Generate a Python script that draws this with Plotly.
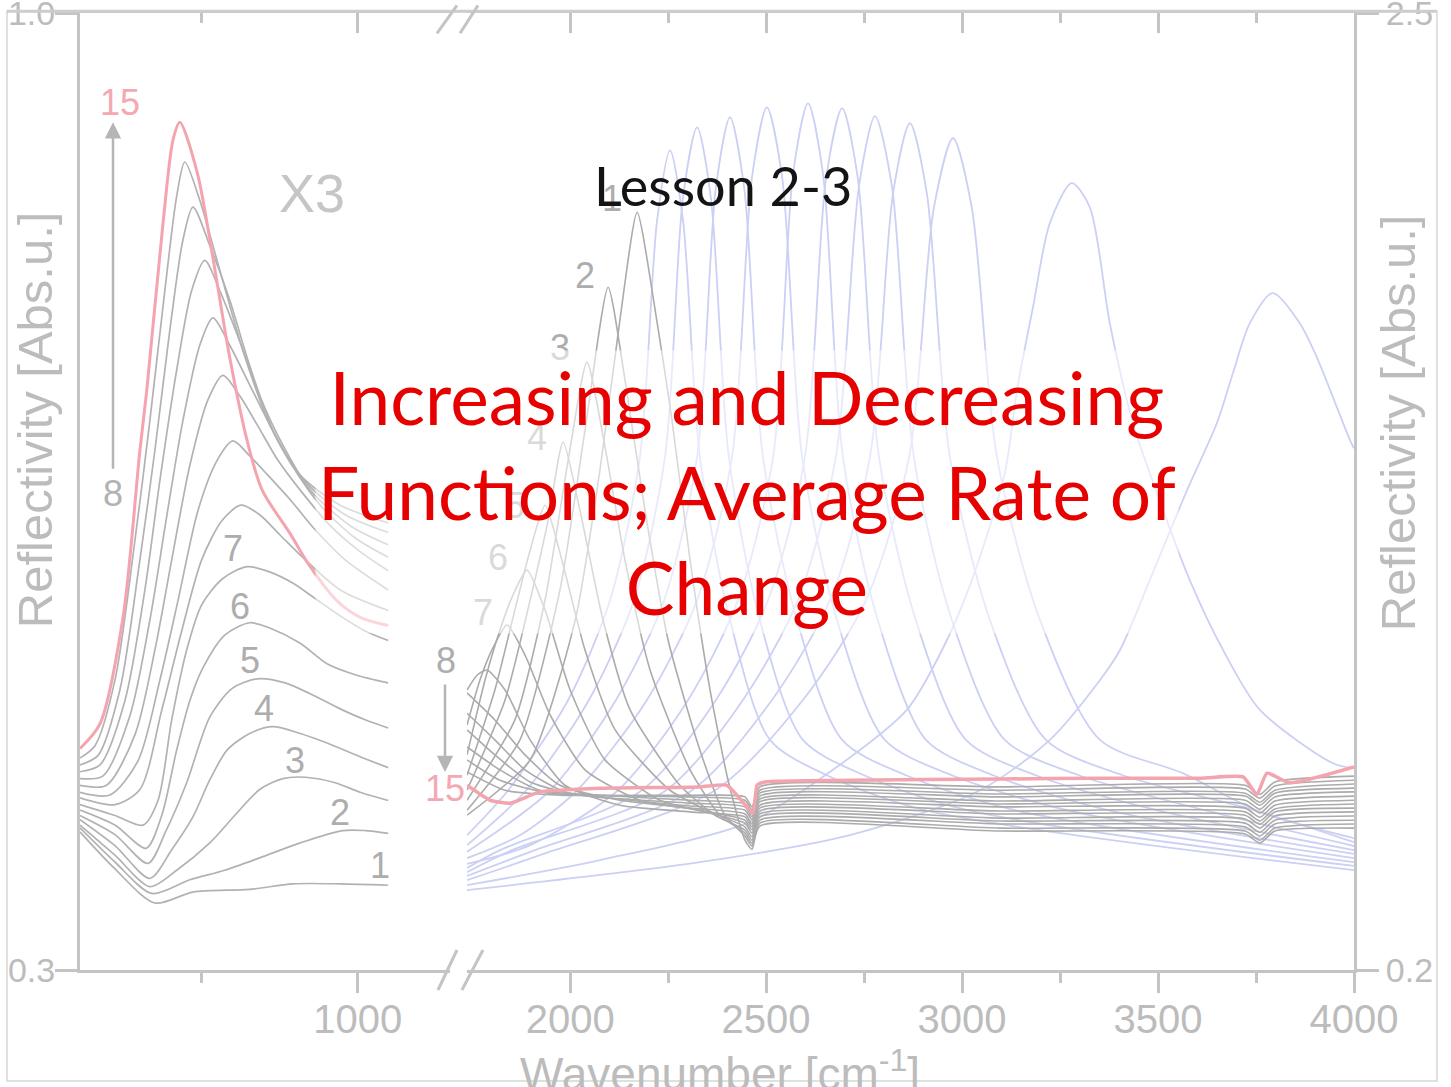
import plotly.graph_objects as go

# ---------------- LEFT PANEL (x3 magnified, left axis 0.3-1.0) ----------------
# wavenumber [cm-1] / reflectivity [Abs.u.]
left15_x = [555, 587, 624, 651, 662, 688, 704, 715, 743, 768, 795, 823, 847, 892, 924, 967, 1004, 1049]
left15_y = [0.462, 0.480, 0.558, 0.680, 0.724, 0.846, 0.907, 0.920, 0.883, 0.821, 0.748, 0.687, 0.651, 0.619, 0.595, 0.570, 0.558, 0.552]
left14_x = [555, 579, 611, 643, 667, 691, 710, 723, 747, 779, 819, 860, 908, 972, 1049]
left14_y = [0.455, 0.464, 0.512, 0.614, 0.702, 0.797, 0.866, 0.891, 0.863, 0.812, 0.749, 0.698, 0.662, 0.640, 0.627]
left13_x = [555, 584, 619, 651, 675, 699, 720, 736, 763, 795, 827, 868, 916, 980, 1049]
left13_y = [0.450, 0.457, 0.505, 0.600, 0.680, 0.768, 0.834, 0.858, 0.830, 0.790, 0.742, 0.691, 0.657, 0.633, 0.620]
left12_x = [555, 587, 627, 659, 683, 710, 734, 755, 779, 811, 843, 880, 924, 988, 1049]
left12_y = [0.445, 0.450, 0.497, 0.578, 0.658, 0.739, 0.797, 0.819, 0.797, 0.760, 0.720, 0.684, 0.651, 0.625, 0.611]
left11_x = [555, 592, 635, 667, 693, 720, 747, 768, 795, 827, 860, 895, 940, 996, 1049]
left11_y = [0.440, 0.442, 0.486, 0.556, 0.629, 0.702, 0.757, 0.777, 0.757, 0.728, 0.698, 0.669, 0.640, 0.616, 0.602]
left10_x = [555, 597, 643, 675, 702, 731, 760, 784, 811, 840, 872, 908, 956, 1004, 1049]
left10_y = [0.435, 0.435, 0.472, 0.534, 0.600, 0.669, 0.717, 0.735, 0.720, 0.698, 0.673, 0.651, 0.625, 0.606, 0.592]
left9_x = [555, 603, 648, 683, 712, 744, 775, 800, 827, 856, 892, 932, 980, 1049]
left9_y = [0.430, 0.428, 0.453, 0.512, 0.570, 0.636, 0.673, 0.687, 0.676, 0.662, 0.644, 0.622, 0.600, 0.578]
left8_x = [555, 611, 651, 686, 718, 750, 783, 813, 843, 876, 916, 972, 1049]
left8_y = [0.426, 0.421, 0.432, 0.490, 0.548, 0.600, 0.629, 0.640, 0.633, 0.618, 0.600, 0.578, 0.563]
left7_x = [555, 611, 656, 680, 702, 726, 750, 783, 823, 860, 896, 928, 972, 1012, 1049]
left7_y = [0.421, 0.413, 0.406, 0.424, 0.483, 0.534, 0.567, 0.586, 0.595, 0.591, 0.583, 0.573, 0.559, 0.548, 0.541]
left6_x = [555, 611, 661, 686, 710, 731, 752, 787, 827, 860, 908, 951, 996, 1049]
left6_y = [0.417, 0.406, 0.389, 0.413, 0.461, 0.497, 0.521, 0.545, 0.554, 0.550, 0.539, 0.524, 0.516, 0.510]
left5_x = [555, 611, 664, 693, 726, 763, 799, 839, 884, 924, 972, 1012, 1049]
left5_y = [0.413, 0.399, 0.378, 0.402, 0.437, 0.485, 0.506, 0.513, 0.510, 0.502, 0.491, 0.483, 0.477]
left4_x = [555, 611, 667, 702, 736, 763, 791, 827, 864, 908, 951, 1004, 1049]
left4_y = [0.410, 0.391, 0.367, 0.388, 0.412, 0.439, 0.461, 0.473, 0.478, 0.473, 0.466, 0.456, 0.448]
left3_x = [555, 611, 667, 710, 763, 803, 843, 880, 916, 964, 1004, 1049]
left3_y = [0.406, 0.384, 0.361, 0.373, 0.393, 0.413, 0.432, 0.440, 0.441, 0.437, 0.430, 0.424]
left2_x = [555, 611, 670, 731, 787, 843, 908, 976, 1012, 1049]
left2_y = [0.404, 0.379, 0.356, 0.366, 0.373, 0.382, 0.393, 0.402, 0.402, 0.400]
left1_x = [555, 611, 675, 736, 827, 896, 972, 1049]
left1_y = [0.401, 0.374, 0.349, 0.357, 0.359, 0.363, 0.363, 0.362]

# ---------------- RIGHT PANEL (right axis 0.2-2.5) ----------------
right15_x = [1737, 1796, 1847, 1923, 2076, 2331, 2400, 2451, 2467, 2477, 2497, 2714, 3097, 3352, 3607, 3717, 3752, 3778, 3836, 4000]
right15_y = [0.644, 0.608, 0.601, 0.628, 0.637, 0.640, 0.644, 0.592, 0.577, 0.644, 0.652, 0.656, 0.659, 0.661, 0.661, 0.664, 0.622, 0.673, 0.650, 0.688]

tail_x = [2446, 2464, 2484, 3097, 3722, 3760, 3798, 4000]

g1_x = [1737, 1898, 2013, 2076, 2127, 2171, 2217, 2260, 2306, 2357, 2403] + tail_x
g1_y = [0.572, 0.705, 1.041, 1.401, 1.762, 2.021, 1.786, 1.521, 1.185, 0.873, 0.656,
        0.512, 0.490, 0.546, 0.534, 0.527, 0.505, 0.534, 0.541]
g2_x = [1737, 1872, 1974, 2038, 2097, 2140, 2191, 2250, 2331, 2395] + tail_x
g2_y = [0.584, 0.753, 1.113, 1.497, 1.841, 1.618, 1.305, 0.993, 0.729, 0.572,
        0.522, 0.498, 0.553, 0.541, 0.534, 0.512, 0.541, 0.551]
g3_x = [1737, 1859, 1936, 1995, 2043, 2086, 2140, 2204, 2306, 2382] + tail_x
g3_y = [0.608, 0.801, 1.089, 1.425, 1.661, 1.473, 1.185, 0.921, 0.681, 0.572,
        0.529, 0.505, 0.560, 0.551, 0.544, 0.522, 0.551, 0.560]
g4_x = [1737, 1834, 1898, 1944, 1982, 2025, 2084, 2153, 2280, 2370] + tail_x
g4_y = [0.632, 0.849, 1.089, 1.281, 1.469, 1.305, 1.041, 0.825, 0.644, 0.572,
        0.536, 0.512, 0.568, 0.558, 0.553, 0.531, 0.560, 0.570]
g5_x = [1737, 1808, 1859, 1898, 1936, 1979, 2038, 2115, 2255, 2357] + tail_x
g5_y = [0.668, 0.873, 1.065, 1.209, 1.317, 1.185, 0.969, 0.777, 0.632, 0.580,
        0.544, 0.520, 0.575, 0.565, 0.563, 0.541, 0.570, 0.580]
g6_x = [1737, 1783, 1821, 1854, 1890, 1936, 2000, 2089, 2229, 2344] + tail_x
g6_y = [0.717, 0.897, 1.017, 1.101, 1.161, 1.065, 0.873, 0.705, 0.608, 0.580,
        0.553, 0.529, 0.582, 0.575, 0.572, 0.550, 0.580, 0.589]
g7_x = [1737, 1770, 1803, 1839, 1885, 1949, 2038, 2178, 2331] + tail_x
g7_y = [0.789, 0.897, 0.974, 1.029, 0.957, 0.813, 0.681, 0.608, 0.584,
        0.560, 0.537, 0.589, 0.582, 0.580, 0.558, 0.587, 0.599]
g8_x = [1737, 1763, 1788, 1834, 1898, 1987, 2127, 2306] + tail_x
g8_y = [0.873, 0.909, 0.921, 0.873, 0.753, 0.644, 0.596, 0.580,
        0.568, 0.544, 0.596, 0.592, 0.589, 0.567, 0.596, 0.608]
g9_x = [1737, 1808, 1885, 1974, 2127, 2306] + tail_x
g9_y = [0.866, 0.801, 0.717, 0.644, 0.608, 0.589,
        0.575, 0.551, 0.604, 0.599, 0.599, 0.577, 0.606, 0.618]
g10_x = [1737, 1808, 1885, 1987, 2153, 2306] + tail_x
g10_y = [0.817, 0.753, 0.681, 0.628, 0.608, 0.594,
         0.584, 0.561, 0.611, 0.606, 0.608, 0.586, 0.616, 0.628]
g11_x = [1737, 1808, 1898, 2025, 2306] + tail_x
g11_y = [0.777, 0.717, 0.652, 0.620, 0.601,
         0.592, 0.568, 0.618, 0.616, 0.618, 0.596, 0.625, 0.637]
g12_x = [1737, 1821, 1923, 2076, 2306] + tail_x
g12_y = [0.736, 0.681, 0.632, 0.620, 0.608,
         0.599, 0.575, 0.625, 0.623, 0.625, 0.603, 0.632, 0.647]
g13_x = [1737, 1821, 1949, 2306] + tail_x
g13_y = [0.705, 0.656, 0.625, 0.616,
         0.608, 0.585, 0.632, 0.632, 0.635, 0.613, 0.642, 0.656]
g14_x = [1737, 1834, 1974, 2306] + tail_x
g14_y = [0.676, 0.632, 0.620, 0.620,
         0.616, 0.592, 0.640, 0.640, 0.644, 0.622, 0.652, 0.666]

b1_x = [1737, 1842, 1995, 2102, 2178, 2222, 2255, 2288, 2331, 2408, 2510, 2655, 2905, 4000]
b1_y = [0.524, 0.632, 0.849, 1.089, 1.433, 2.002, 2.170, 2.002, 1.433, 1.041, 0.753, 0.668, 0.584, 0.440]
b2_x = [1737, 1888, 2048, 2163, 2242, 2288, 2324, 2359, 2405, 2484, 2594, 2750, 3013, 4000]
b2_y = [0.500, 0.632, 0.849, 1.089, 1.433, 2.057, 2.225, 2.057, 1.433, 1.041, 0.753, 0.668, 0.584, 0.450]
b3_x = [1737, 1949, 2117, 2240, 2324, 2372, 2408, 2444, 2492, 2579, 2694, 2857, 3135, 4000]
b3_y = [0.484, 0.632, 0.849, 1.089, 1.433, 2.081, 2.249, 2.081, 1.433, 1.041, 0.753, 0.668, 0.584, 0.459]
b4_x = [1737, 1872, 2018, 2196, 2324, 2413, 2464, 2502, 2541, 2592, 2681, 2803, 2974, 3268, 4000]
b4_y = [0.469, 0.524, 0.632, 0.849, 1.089, 1.433, 2.105, 2.273, 2.105, 1.433, 1.041, 0.753, 0.668, 0.584, 0.469]
b5_x = [1737, 1898, 2122, 2301, 2428, 2518, 2569, 2607, 2645, 2696, 2785, 2908, 3079, 3372, 4000]
b5_y = [0.455, 0.500, 0.632, 0.849, 1.089, 1.433, 2.115, 2.283, 2.115, 1.433, 1.041, 0.753, 0.668, 0.584, 0.479]
b6_x = [1737, 1821, 2183, 2372, 2505, 2599, 2653, 2694, 2734, 2788, 2882, 3010, 3188, 3497, 4000]
b6_y = [0.445, 0.488, 0.632, 0.849, 1.089, 1.433, 2.103, 2.271, 2.103, 1.433, 1.041, 0.753, 0.668, 0.584, 0.488]
b7_x = [1737, 1852, 2245, 2441, 2581, 2678, 2737, 2778, 2821, 2877, 2974, 3109, 3298, 3620, 4000]
b7_y = [0.435, 0.488, 0.632, 0.849, 1.089, 1.433, 2.084, 2.252, 2.084, 1.433, 1.041, 0.753, 0.668, 0.584, 0.498]
b8_x = [1737, 1898, 2311, 2515, 2663, 2765, 2824, 2867, 2910, 2969, 3071, 3214, 3410, 3747, 4000]
b8_y = [0.426, 0.484, 0.632, 0.849, 1.089, 1.433, 2.067, 2.235, 2.067, 1.433, 1.041, 0.753, 0.668, 0.584, 0.507]
b9_x = [1737, 1923, 2370, 2594, 2755, 2865, 2928, 2977, 3025, 3089, 3199, 3352, 3563, 3760, 4000]
b9_y = [0.416, 0.476, 0.632, 0.849, 1.089, 1.433, 2.031, 2.199, 2.031, 1.433, 1.041, 0.753, 0.673, 0.580, 0.517]
b10_x = [1737, 2076, 2459, 2694, 2859, 2949, 3025, 3109, 3140, 3181, 3224, 3280, 3326, 3377, 3436, 3479, 3581, 3666, 3760, 3946, 4000]
b10_y = [0.404, 0.464, 0.556, 0.697, 0.825, 0.969, 1.137, 1.394, 1.593, 1.793, 1.995, 2.091, 2.033, 1.754, 1.514, 1.394, 1.137, 0.969, 0.825, 0.697, 0.685]
b11_x = [1737, 2331, 2714, 3046, 3224, 3352, 3403, 3479, 3574, 3650, 3691, 3734, 3793, 3862, 3905, 3990, 4000]
b11_y = [0.392, 0.459, 0.524, 0.632, 0.753, 0.897, 0.969, 1.137, 1.353, 1.514, 1.634, 1.754, 1.827, 1.754, 1.673, 1.473, 1.454]

# ticks
left_major = [1000]
left_minor = [750]
right_major = [2000, 2500, 3000, 3500, 4000]
right_minor = [2250, 2750, 3250, 3750]

# curve labels (paper positions)
left_labels = ["7", "6", "5", "4", "3", "2", "1"]
left_label_x = [0.1201, 0.1256, 0.1334, 0.1444, 0.1688, 0.2041, 0.2355]
left_label_y = [0.4408, 0.3802, 0.3238, 0.2737, 0.2194, 0.1650, 0.1097]
right_labels = ["1", "2", "3", "4", "5", "6", "7", "8"]
right_label_x = [0.4176, 0.3964, 0.3768, 0.3587, 0.3414, 0.3281, 0.3163, 0.2873]
right_label_y = [0.8064, 0.7260, 0.6508, 0.5568, 0.4857, 0.4314, 0.3740, 0.3238]

GRAY = "#b2b2b2"
RGRAY = "#ababab"
BLUE = "#cbd0f4"
PINK = "#f4a4ae"
AXC = "#c4c4c4"
TXT = "#bcbcbc"
SANS = "Liberation Sans, Arial, sans-serif"

fig = go.Figure()

def add(xs, ys, color, width, xa, ya, smooth=0.8):
    fig.add_trace(go.Scatter(x=xs, y=ys, mode="lines", xaxis=xa, yaxis=ya,
                             line=dict(color=color, width=width, shape="spline", smoothing=smooth),
                             hoverinfo="skip", showlegend=False))

# right panel: blue, then gray, then pink
for xs, ys in [(b1_x, b1_y), (b2_x, b2_y), (b3_x, b3_y), (b4_x, b4_y), (b5_x, b5_y), (b6_x, b6_y),
               (b7_x, b7_y), (b8_x, b8_y), (b9_x, b9_y), (b10_x, b10_y), (b11_x, b11_y)]:
    add(xs, ys, BLUE, 1.8, "x2", "y2")
for xs, ys in [(g14_x, g14_y), (g13_x, g13_y), (g12_x, g12_y), (g11_x, g11_y), (g10_x, g10_y),
               (g9_x, g9_y), (g8_x, g8_y), (g7_x, g7_y), (g6_x, g6_y), (g5_x, g5_y), (g4_x, g4_y),
               (g3_x, g3_y), (g2_x, g2_y), (g1_x, g1_y)]:
    add(xs, ys, RGRAY, 1.6, "x2", "y2", 0.6)
add(right15_x, right15_y, PINK, 3.5, "x2", "y2", 0.5)

# left panel
for xs, ys in [(left1_x, left1_y), (left2_x, left2_y), (left3_x, left3_y), (left4_x, left4_y),
               (left5_x, left5_y), (left6_x, left6_y), (left7_x, left7_y), (left8_x, left8_y),
               (left9_x, left9_y), (left10_x, left10_y), (left11_x, left11_y), (left12_x, left12_y),
               (left13_x, left13_y), (left14_x, left14_y)]:
    add(xs, ys, GRAY, 1.7, "x", "y")
add(left15_x, left15_y, PINK, 3, "x", "y")

# empty helpers so the top (mirror) axes are drawn
fig.add_trace(go.Scatter(x=[1000], y=[None], xaxis="x3", yaxis="y", mode="lines", showlegend=False, hoverinfo="skip"))
fig.add_trace(go.Scatter(x=[3000], y=[None], xaxis="x4", yaxis="y2", mode="lines", showlegend=False, hoverinfo="skip"))

tickfont = dict(family=SANS, size=40, color=TXT)
ytickfont = dict(family=SANS, size=34, color=TXT)
common_x = dict(showline=True, linecolor=AXC, linewidth=3, showgrid=False, zeroline=False, automargin=False,
                tickcolor=AXC, tickwidth=3, tickfont=tickfont, tickmode="array", ticklabeloverflow="allow")

fig.update_layout(
    width=1451, height=1087,
    margin=dict(l=80, r=97, t=13, b=117, autoexpand=False),
    paper_bgcolor="white", plot_bgcolor="white", showlegend=False,
    xaxis=dict(domain=[0, 0.2904], range=[555, 1148], anchor="y", ticks="outside", ticklen=20,
               ticklabelstandoff=-8,
               tickvals=left_major, ticktext=[str(v) for v in left_major],
               minor=dict(tickmode="array", tickvals=left_minor, ticks="outside", ticklen=10,
                          tickwidth=3, tickcolor=AXC, showgrid=False), **common_x),
    xaxis2=dict(domain=[0.3038, 1], range=[1737, 4000], anchor="y2", ticks="outside", ticklen=20,
                ticklabelstandoff=-8,
                tickvals=right_major, ticktext=[str(v) for v in right_major],
                minor=dict(tickmode="array", tickvals=right_minor, ticks="outside", ticklen=10,
                           tickwidth=3, tickcolor=AXC, showgrid=False), **common_x),
    xaxis3=dict(domain=[0, 0.2904], range=[555, 1148], overlaying="x", side="top", anchor="y",
                ticks="inside", ticklen=20, tickvals=left_major, showticklabels=False,
                minor=dict(tickmode="array", tickvals=left_minor, ticks="inside", ticklen=10,
                           tickwidth=3, tickcolor=AXC, showgrid=False), **common_x),
    xaxis4=dict(domain=[0.3038, 1], range=[1737, 4000], overlaying="x2", side="top", anchor="y2",
                ticks="inside", ticklen=20, tickvals=right_major, showticklabels=False,
                minor=dict(tickmode="array", tickvals=right_minor, ticks="inside", ticklen=10,
                           tickwidth=3, tickcolor=AXC, showgrid=False), **common_x),
    yaxis=dict(domain=[0, 1], range=[0.3, 1.0], anchor="x", showline=True, linecolor=AXC, linewidth=3,
               showgrid=False, zeroline=False, automargin=False, ticks="outside", ticklen=22, tickwidth=3,
               ticklabelstandoff=-7, ticklabeloverflow="allow",
               tickcolor=AXC, tickmode="array", tickvals=[0.3, 1.0], ticktext=["0.3", "1.0"], tickfont=ytickfont),
    yaxis2=dict(domain=[0, 1], range=[0.2, 2.5], anchor="x2", side="right", showline=True, linecolor=AXC,
                linewidth=3, showgrid=False, zeroline=False, automargin=False, ticks="outside", ticklen=22,
                ticklabeloverflow="allow",
                tickwidth=3, tickcolor=AXC, tickmode="array", tickvals=[0.2, 2.5], ticktext=["0.2", "2.5"],
                tickfont=ytickfont),
)

ann = []
def txt(x, y, s, size, color, family=SANS, angle=0, **kw):
    ann.append(dict(x=x, y=y, xref="paper", yref="paper", text=s, showarrow=False, textangle=angle,
                    font=dict(family=family, size=size, color=color), xanchor="center", yanchor="middle", **kw))

# axis titles
txt(-0.0353, 0.5745, "Reflectivity [Abs.u.]", 49, TXT, angle=-90)
txt(1.0345, 0.5724, "Reflectivity [Abs.u.]", 49, TXT, angle=-90)
txt(0.5024, -0.1055, "Wavenumber [cm<sup>-1</sup>]", 46, TXT)

# panel annotations
txt(0.1821, 0.8117, "X3", 54, "#c6c6c6")
txt(0.0314, 0.9067, "15", 36, "#f4a8b1")
txt(0.0259, 0.4983, "8", 36, "#b2b2b2")
for s, x, y in zip(left_labels, left_label_x, left_label_y):
    txt(x, y, s, 36, "#adadad")
for s, x, y in zip(right_labels, right_label_x, right_label_y):
    txt(x, y, s, 36, "#adadad")
txt(0.2865, 0.1901, "15", 36, "#f4a8b1")

# arrows
ann.append(dict(x=0.0259, y=0.8858, xref="paper", yref="paper", ax=0, ay=348, axref="pixel", ayref="pixel",
                text="", showarrow=True, arrowhead=2, arrowsize=1.3, arrowwidth=2.5, arrowcolor="#b5b5b5"))
ann.append(dict(x=0.2865, y=0.2068, xref="paper", yref="paper", ax=0, ay=-89, axref="pixel", ayref="pixel",
                text="", showarrow=True, arrowhead=2, arrowsize=1.3, arrowwidth=2.5, arrowcolor="#b5b5b5"))

# slide text
txt(0.5047, 0.8200, "Lesson 2-3", 54, "#141414", family="Lato, Carlito, Calibri, sans-serif")
txt(0.5235, 0.4995, "Increasing and Decreasing<br>Functions; Average Rate of<br>Change", 73, "#e60000",
    family="Lato, Carlito, Calibri, sans-serif", bgcolor="rgba(255,255,255,0.55)", borderpad=2)

fig.update_layout(annotations=ann)

shapes = []
# slide border
shapes.append(dict(type="rect", xref="paper", yref="paper", x0=-0.0573, x1=1.0651, y0=-0.116, y1=1.0018,
                   line=dict(color="#e0e0e0", width=2), layer="below"))
shapes.append(dict(type="line", xref="paper", yref="paper", x0=-0.0573, x1=1.0651, y0=1.0018, y1=1.0018,
                   line=dict(color="#cdcdcd", width=3)))
# axis break marks
for x0, x1 in [(0.2810, 0.2959), (0.2998, 0.3163)]:
    shapes.append(dict(type="line", xref="paper", yref="paper", x0=x0, x1=x1, y0=-0.0209, y1=0.0209,
                       line=dict(color=AXC, width=3)))
for x0, x1 in [(0.2802, 0.2959), (0.2983, 0.3124)]:
    shapes.append(dict(type="line", xref="paper", yref="paper", x0=x0, x1=x1, y0=0.9788, y1=1.008,
                       line=dict(color=AXC, width=3)))
fig.update_layout(shapes=shapes)

fig.write_html("out.html", config={"displayModeBar": False},
               post_script="document.body.style.margin='0px';document.body.style.padding='0px';")
